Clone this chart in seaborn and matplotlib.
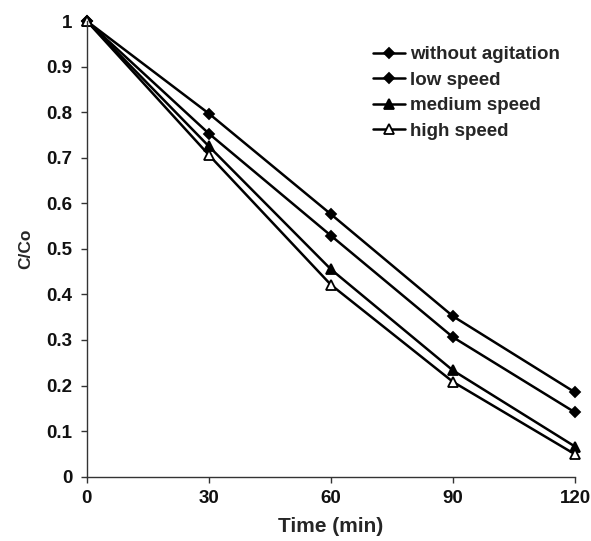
import numpy as np
import pandas as pd
import seaborn as sns
import matplotlib.pyplot as plt

# data
time = [0, 30, 60, 90, 120]
series_names = ['without agitation', 'low speed', 'medium speed', 'high speed']
without_agitation = [1.0, 0.797, 0.576, 0.352, 0.185]
low_speed = [1.0, 0.753, 0.529, 0.306, 0.141]
medium_speed = [1.0, 0.725, 0.455, 0.233, 0.066]
high_speed = [1.0, 0.706, 0.421, 0.208, 0.049]
y_ticks = [0, 0.1, 0.2, 0.3, 0.4, 0.5, 0.6, 0.7, 0.8, 0.9, 1]
y_tick_labels = ['0', '0.1', '0.2', '0.3', '0.4', '0.5', '0.6', '0.7', '0.8', '0.9', '1']

values = [without_agitation, low_speed, medium_speed, high_speed]
df = pd.concat([pd.DataFrame({'time': time, 'cc': v, 'series': n})
                for n, v in zip(series_names, values)])

sns.set_style('ticks')
plt.rcParams['font.family'] = ['Liberation Sans', 'DejaVu Sans']
plt.rcParams['font.weight'] = 'bold'

fig = plt.figure(figsize=(5.91, 5.41), dpi=100)
ax = fig.add_axes([0.147, 0.119, 0.826, 0.842])

styles = {
    'without agitation': dict(marker='D', markersize=5.5, markerfacecolor='black'),
    'low speed': dict(marker='D', markersize=5.5, markerfacecolor='black'),
    'medium speed': dict(marker='^', markersize=7, markerfacecolor='black'),
    'high speed': dict(marker='^', markersize=7, markerfacecolor='white'),
}
for name in series_names:
    sub = df[df['series'] == name]
    sns.lineplot(data=sub, x='time', y='cc', ax=ax, color='black', linewidth=1.8,
                 markeredgecolor='black', markeredgewidth=1.3, clip_on=False,
                 label=name, **styles[name])

ax.set_xlim(0, 120)
ax.set_ylim(0, 1)
ax.set_xticks(time)
ax.set_yticks(y_ticks)
ax.set_yticklabels(y_tick_labels)
ax.tick_params(axis='both', labelsize=13.5, length=4.5, width=1, colors='#333333',
               labelcolor='#111111')
ax.tick_params(axis='y', pad=6)
ax.tick_params(axis='x', pad=5)
for lab in ax.get_xticklabels() + ax.get_yticklabels():
    lab.set_fontweight('bold')
sns.despine(ax=ax)
ax.spines['left'].set_linewidth(1)
ax.spines['bottom'].set_linewidth(1)
ax.spines['left'].set_color('#333333')
ax.spines['bottom'].set_color('#333333')

ax.set_xlabel('Time (min)', fontsize=15, fontweight='bold', labelpad=7)
ax.set_ylabel('C/Co', fontsize=12.5, fontweight='bold', labelpad=9)

ax.legend(loc='upper left', bbox_to_anchor=(373 / 591, 1 - 46 / 541),
          bbox_transform=fig.transFigure, frameon=False, borderpad=0,
          borderaxespad=0, prop={'size': 13.5, 'weight': 'bold'},
          handlelength=1.7, handletextpad=0.28, labelspacing=0.45)

fig.savefig('out.png', dpi=100)
